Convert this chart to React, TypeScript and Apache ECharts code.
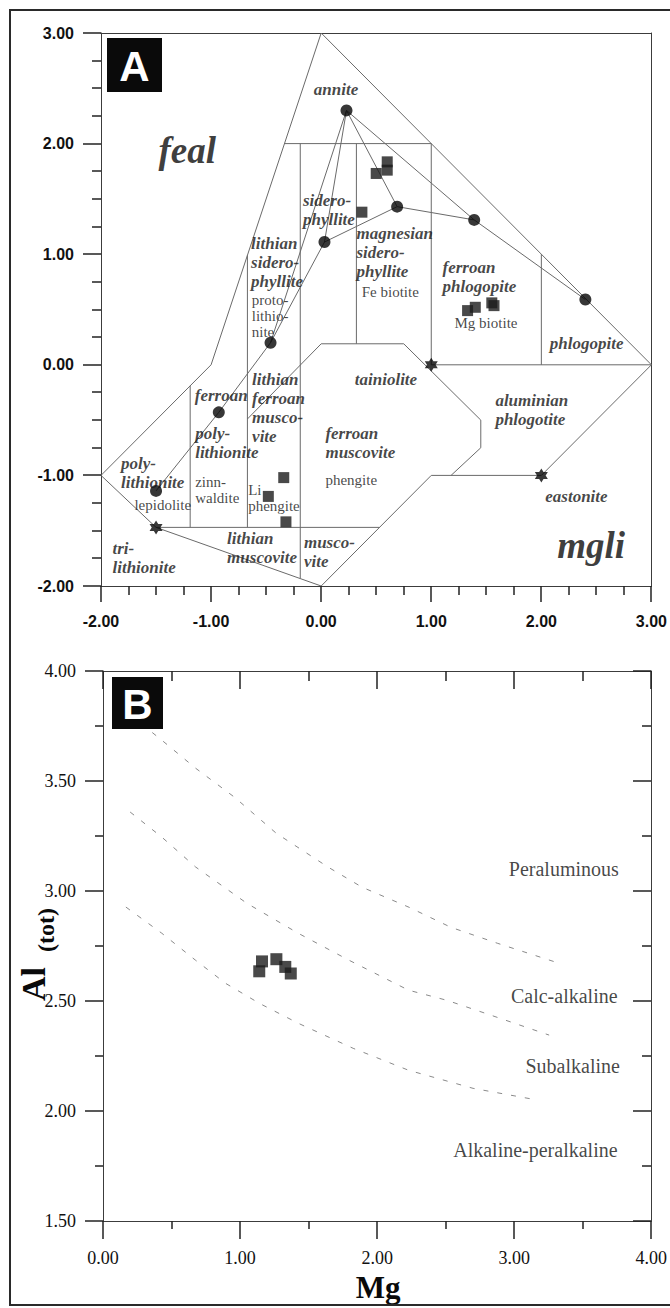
import React, { useEffect, useRef } from 'react';
import * as echarts from 'echarts';

// ---------------- Panel A: mgli vs feal classification ----------------
const axisAX = { min: -2, max: 3, step: 1 };
const axisAY = { min: -2, max: 3, step: 1 };

const outerBoundary = [[0, 3], [-1, 0], [-2, -1], [-1.5, -1.47], [0, -2], [1, -1], [2, -1], [3, 0], [0, 3]];
const fieldBoundaries = [
  [[-0.333, 2], [1, 2]],
  [[-0.19, 2], [-0.19, -1.93]],
  [[0.32, 2], [0.32, 0.19]],
  [[1, 2], [1, 0]],
  [[2, 1], [2, 0]],
  [[1, 0], [3, 0]],
  [[-0.67, 0.99], [-0.67, -1.47]],
  [[-1.19, -0.19], [-1.19, -1.47]],
  [[-1.5, -1.47], [0.53, -1.47]],
  [[-0.67, -0.49], [0, 0.19], [0.75, 0.19], [1.45, -0.5], [1.45, -0.75], [1.18, -1]],
];
const trendLines = [
  [[0.23, 2.3], [-0.46, 0.2], [-0.93, -0.43], [-1.5, -1.14]],
  [[0.23, 2.3], [0.03, 1.11], [-0.46, 0.2]],
  [[0.23, 2.3], [0.69, 1.43], [1.39, 1.31]],
  [[0.03, 1.11], [0.69, 1.43]],
  [[0.23, 2.3], [1.39, 1.31], [2.4, 0.59]],
];
const endMemberDots = [[0.23, 2.3], [0.03, 1.11], [0.69, 1.43], [1.39, 1.31], [2.4, 0.59], [-0.46, 0.2], [-0.93, -0.43], [-1.5, -1.14]];
const endMemberStars = [[1, 0], [2, -1], [-1.5, -1.47]];
const samplesA = [
  [0.5, 1.73], [0.6, 1.76], [0.6, 1.835], [0.37, 1.38],
  [1.33, 0.49], [1.4, 0.52], [1.55, 0.56], [1.57, 0.535],
  [-0.34, -1.02], [-0.48, -1.19], [-0.32, -1.42],
];
const boldLabelsA = [
  { name: 'annite', at: [-0.062, 2.572] },
  { name: 'sidero-\nphyllite', at: [-0.161, 1.569] },
  { name: 'lithian\nsidero-\nphyllite', at: [-0.632, 1.18] },
  { name: 'magnesian\nsidero-\nphyllite', at: [0.325, 1.27] },
  { name: 'ferroan\nphlogopite', at: [1.107, 0.963] },
  { name: 'phlogopite', at: [2.082, 0.276] },
  { name: 'tainiolite', at: [0.31, -0.05] },
  { name: 'ferroan', at: [-1.144, -0.194] },
  { name: 'poly-\nlithionite', at: [-1.14, -0.538] },
  { name: 'lithian\nferroan\nmusco-\nvite', at: [-0.623, -0.05] },
  { name: 'aluminian\nphlogotite', at: [1.587, -0.24] },
  { name: 'ferroan\nmuscovite', at: [0.043, -0.538] },
  { name: 'poly-\nlithionite', at: [-1.813, -0.809] },
  { name: 'eastonite', at: [2.04, -1.108] },
  { name: 'tri-\nlithionite', at: [-1.891, -1.578] },
  { name: 'lithian\nmuscovite', at: [-0.85, -1.487] },
  { name: 'musco-\nvite', at: [-0.152, -1.524] },
];
const plainLabelsA = [
  { name: 'proto-\nlithio-\nnite', at: [-0.626, 0.651] },
  { name: 'Fe biotite', at: [0.373, 0.723] },
  { name: 'Mg biotite', at: [1.216, 0.443] },
  { name: 'phengite', at: [0.043, -0.976] },
  { name: 'zinn-\nwaldite', at: [-1.14, -0.995] },
  { name: 'Li\nphengite', at: [-0.659, -1.067] },
  { name: 'lepidolite', at: [-1.692, -1.203] },
];
const bigLabelsA = [
  { name: 'feal', at: [-1.212, 1.935] },
  { name: 'mgli', at: [2.457, -1.637] },
];

// ---------------- Panel B: Mg vs Al(tot) ----------------
const axisBX = { min: 0, max: 4, step: 1 };
const axisBY = { min: 1.5, max: 4, step: 0.5 };

const peraluminousBoundary = [[0.2, 3.8], [0.43, 3.685], [0.676, 3.558], [0.96, 3.426], [1.265, 3.262], [1.644, 3.108], [1.891, 3.017], [2.233, 2.926], [2.538, 2.835], [2.88, 2.762], [3.316, 2.674]];
const calcAlkalineBoundary = [[0.198, 3.359], [0.429, 3.245], [0.676, 3.109], [1.05, 2.944], [1.424, 2.808], [1.796, 2.685], [2.23, 2.549], [2.51, 2.503], [2.79, 2.444], [3.255, 2.345]];
const subalkalineBoundary = [[0.167, 2.927], [0.429, 2.808], [0.676, 2.685], [0.895, 2.58], [1.142, 2.489], [1.424, 2.399], [1.825, 2.285], [2.23, 2.185], [2.7, 2.103], [3.168, 2.05]];
const samplesB = [[1.16, 2.68], [1.265, 2.69], [1.33, 2.655], [1.14, 2.635], [1.37, 2.625]];
const fieldLabelsB = [
  { name: 'Peraluminous', at: [3.767, 3.099] },
  { name: 'Calc-alkaline', at: [3.758, 2.52] },
  { name: 'Subalkaline', at: [3.775, 2.201] },
  { name: 'Alkaline-peralkaline', at: [3.758, 1.82] },
];

const SERIF = '"Liberation Serif", "Times New Roman", serif';
const SANS = '"Liberation Sans", Arial, sans-serif';
const STAR = 'path://M0,-10L8.66,5L-8.66,5Z M0,10L-8.66,-5L8.66,-5Z';
const AXIS_COLOR = '#222';

function lineSeries(pts: number[][], axis: number, style: any) {
  return {
    type: 'line', xAxisIndex: axis, yAxisIndex: axis, data: pts, symbol: 'none', showSymbol: false,
    lineStyle: style, silent: true, animation: false, z: 2,
  };
}

function labelSeries(items: { name: string; at: number[] }[], axis: number, label: any) {
  return {
    type: 'scatter', xAxisIndex: axis, yAxisIndex: axis, symbolSize: 1,
    itemStyle: { color: 'rgba(0,0,0,0)' }, silent: true, z: 6,
    data: items.map((d) => ({ name: d.name, value: d.at })),
    label: Object.assign({ show: true, formatter: '{b}', position: [0, 0] }, label),
  };
}

function makeAxis(gridIndex: number, ax: any, position: string, label: any) {
  return {
    gridIndex, type: 'value', position, min: ax.min, max: ax.max, interval: ax.step,
    axisLine: { show: true, onZero: false, lineStyle: { color: '#3c3c3c', width: 1 } },
    axisTick: { show: false },
    minorTick: { show: false },
    splitLine: { show: false },
    axisLabel: label ? label : { show: false },
  };
}

export default function App() {
  const ref = useRef<HTMLDivElement>(null);
  useEffect(() => {
    if (!ref.current) return;
    const chart = echarts.init(ref.current, undefined, { renderer: 'svg' });
    const lineA = { color: '#6a6a6a', width: 1 };
    const dashB = { color: '#8a8a8a', width: 1, type: [5, 9] };
    const fmt = (v: number) => v.toFixed(2);
    const sansLabel = { margin: 27, formatter: fmt, fontFamily: SANS, fontSize: 16, fontWeight: 'bold', color: '#111' };
    const serifLabelX = { margin: 28, formatter: fmt, fontFamily: SERIF, fontSize: 18, color: '#111' };
    const serifLabelY = { margin: 27, formatter: fmt, fontFamily: SERIF, fontSize: 18, color: '#111' };

    const baseGraphic: any[] = [
      { type: 'rect', z: 100, shape: { x: 107, y: 38, width: 55, height: 54 }, style: { fill: '#0a0a0a' } },
      {
        type: 'text', z: 101, x: 134.5, y: 66,
        style: { text: 'A', fontFamily: SANS, fontWeight: 'bold', fontSize: 42, fill: '#fff', align: 'center', verticalAlign: 'middle' },
      },
      { type: 'rect', z: 100, shape: { x: 112, y: 677, width: 51, height: 52 }, style: { fill: '#0a0a0a' } },
      {
        type: 'text', z: 101, x: 137.5, y: 704,
        style: { text: 'B', fontFamily: SANS, fontWeight: 'bold', fontSize: 42, fill: '#fff', align: 'center', verticalAlign: 'middle' },
      },
      {
        type: 'text', z: 101, x: 33, y: 984, rotation: Math.PI / 2,
        style: { text: 'Al', fontFamily: SERIF, fontWeight: 'bold', fontSize: 34, fill: '#0a0a0a', align: 'center', verticalAlign: 'middle' },
      },
      {
        type: 'text', z: 101, x: 46, y: 930, rotation: Math.PI / 2,
        style: { text: '(tot)', fontFamily: SERIF, fontWeight: 'bold', fontSize: 24, fill: '#0a0a0a', align: 'center', verticalAlign: 'middle' },
      },
      {
        type: 'text', z: 101, x: 378, y: 1303,
        style: { text: 'Mg', fontFamily: SERIF, fontWeight: 'bold', fontSize: 31, fill: '#0a0a0a', align: 'center', verticalAlign: 'bottom' },
      },
      {
        type: 'polyline', z: 103, shape: { points: [[674, 10], [10, 10], [10, 1305], [674, 1305]] },
        style: { fill: null, stroke: '#2a2a2a', lineWidth: 2 },
      },
    ];

    const option: any = {
      animation: false,
      backgroundColor: '#fff',
      grid: [
        { left: 101, top: 33, width: 552, height: 553 },
        { left: 103, top: 671, width: 550, height: 550 },
      ],
      xAxis: [
        makeAxis(0, axisAX, 'bottom', sansLabel),
        makeAxis(1, axisBX, 'bottom', serifLabelX),
        makeAxis(1, axisBX, 'top', null),
        makeAxis(0, axisAX, 'top', null),
      ],
      yAxis: [
        makeAxis(0, axisAY, 'left', sansLabel),
        makeAxis(1, axisBY, 'left', serifLabelY),
        makeAxis(1, axisBY, 'right', null),
        makeAxis(0, axisAY, 'right', null),
      ],
      series: [
        lineSeries(outerBoundary, 0, lineA),
        ...fieldBoundaries.map((p) => lineSeries(p, 0, lineA)),
        ...trendLines.map((p) => lineSeries(p, 0, lineA)),
        {
          type: 'scatter', xAxisIndex: 0, yAxisIndex: 0, data: endMemberDots, symbol: 'circle', symbolSize: 12,
          itemStyle: { color: '#050505' }, z: 4, silent: true,
        },
        {
          type: 'scatter', xAxisIndex: 0, yAxisIndex: 0, data: endMemberStars, symbol: STAR, symbolSize: [13, 14],
          itemStyle: { color: '#050505' }, z: 4, silent: true,
        },
        {
          type: 'scatter', xAxisIndex: 0, yAxisIndex: 0, data: samplesA, symbol: 'rect', symbolSize: 11,
          itemStyle: { color: '#1c1c1c' }, z: 5, silent: true,
        },
        labelSeries(boldLabelsA, 0, {
          fontFamily: SERIF, fontStyle: 'italic', fontWeight: 'bold', fontSize: 17, lineHeight: 19, color: '#151515',
        }),
        labelSeries(plainLabelsA, 0, {
          fontFamily: SERIF, fontSize: 15, lineHeight: 16, color: '#151515',
        }),
        labelSeries(bigLabelsA, 0, {
          fontFamily: SERIF, fontStyle: 'italic', fontWeight: 'bold', fontSize: 37, color: '#0a0a0a',
          align: 'center', verticalAlign: 'middle',
        }),
        lineSeries(peraluminousBoundary, 1, dashB),
        lineSeries(calcAlkalineBoundary, 1, dashB),
        lineSeries(subalkalineBoundary, 1, dashB),
        {
          type: 'scatter', xAxisIndex: 1, yAxisIndex: 1, data: samplesB, symbol: 'rect', symbolSize: 12,
          itemStyle: { color: '#1c1c1c' }, z: 5, silent: true,
        },
        labelSeries(fieldLabelsB, 1, {
          fontFamily: SERIF, fontSize: 20, color: '#151515', align: 'right', verticalAlign: 'middle',
        }),
      ],
      graphic: baseGraphic,
    };
    chart.setOption(option);

    // Tick marks, placed through the axes' own scales.
    const ticks: any[] = [];
    const addTicks = (xi: number, yi: number, orient: 'x' | 'y', ax: any, at: number, majorLen: number, minorLen: number, minorSplit: number, dir: number) => {
      const n = Math.round((ax.max - ax.min) / ax.step);
      const push = (v: number, len: number) => {
        const px = chart.convertToPixel({ xAxisIndex: xi }, orient === 'x' ? v : at) as any;
        const py = chart.convertToPixel({ yAxisIndex: yi }, orient === 'x' ? at : v) as any;
        const x1 = Math.round(px);
        const y1 = Math.round(py);
        const x2 = orient === 'x' ? x1 : x1 + dir * len;
        const y2 = orient === 'x' ? y1 + dir * len : y1;
        ticks.push({ type: 'line', z: 50, silent: true, shape: { x1, y1, x2, y2 }, style: { stroke: AXIS_COLOR, lineWidth: 1.5 } });
      };
      for (let i = 0; i <= n; i++) {
        const v = ax.min + i * ax.step;
        push(v, majorLen);
        if (i < n) for (let k = 1; k < minorSplit; k++) push(v + (k * ax.step) / minorSplit, minorLen);
      }
    };
    addTicks(0, 0, 'x', axisAX, axisAY.min, 16, 9, 4, 1);
    addTicks(0, 0, 'y', axisAY, axisAX.min, 18, 9, 4, -1);
    addTicks(1, 1, 'x', axisBX, axisBY.min, 18, 8, 2, 1);
    addTicks(1, 1, 'x', axisBX, axisBY.max, 18, 10, 2, 1);
    addTicks(1, 1, 'y', axisBY, axisBX.min, 18, 8, 2, -1);
    addTicks(1, 1, 'y', axisBY, axisBX.max, 18, 9, 2, -1);
    chart.setOption({ graphic: [...baseGraphic, ...ticks] });

    return () => chart.dispose();
  }, []);
  return <div ref={ref} style={{ position: 'absolute', left: 0, top: 0, width: 670, height: 1308 }} />;
}
